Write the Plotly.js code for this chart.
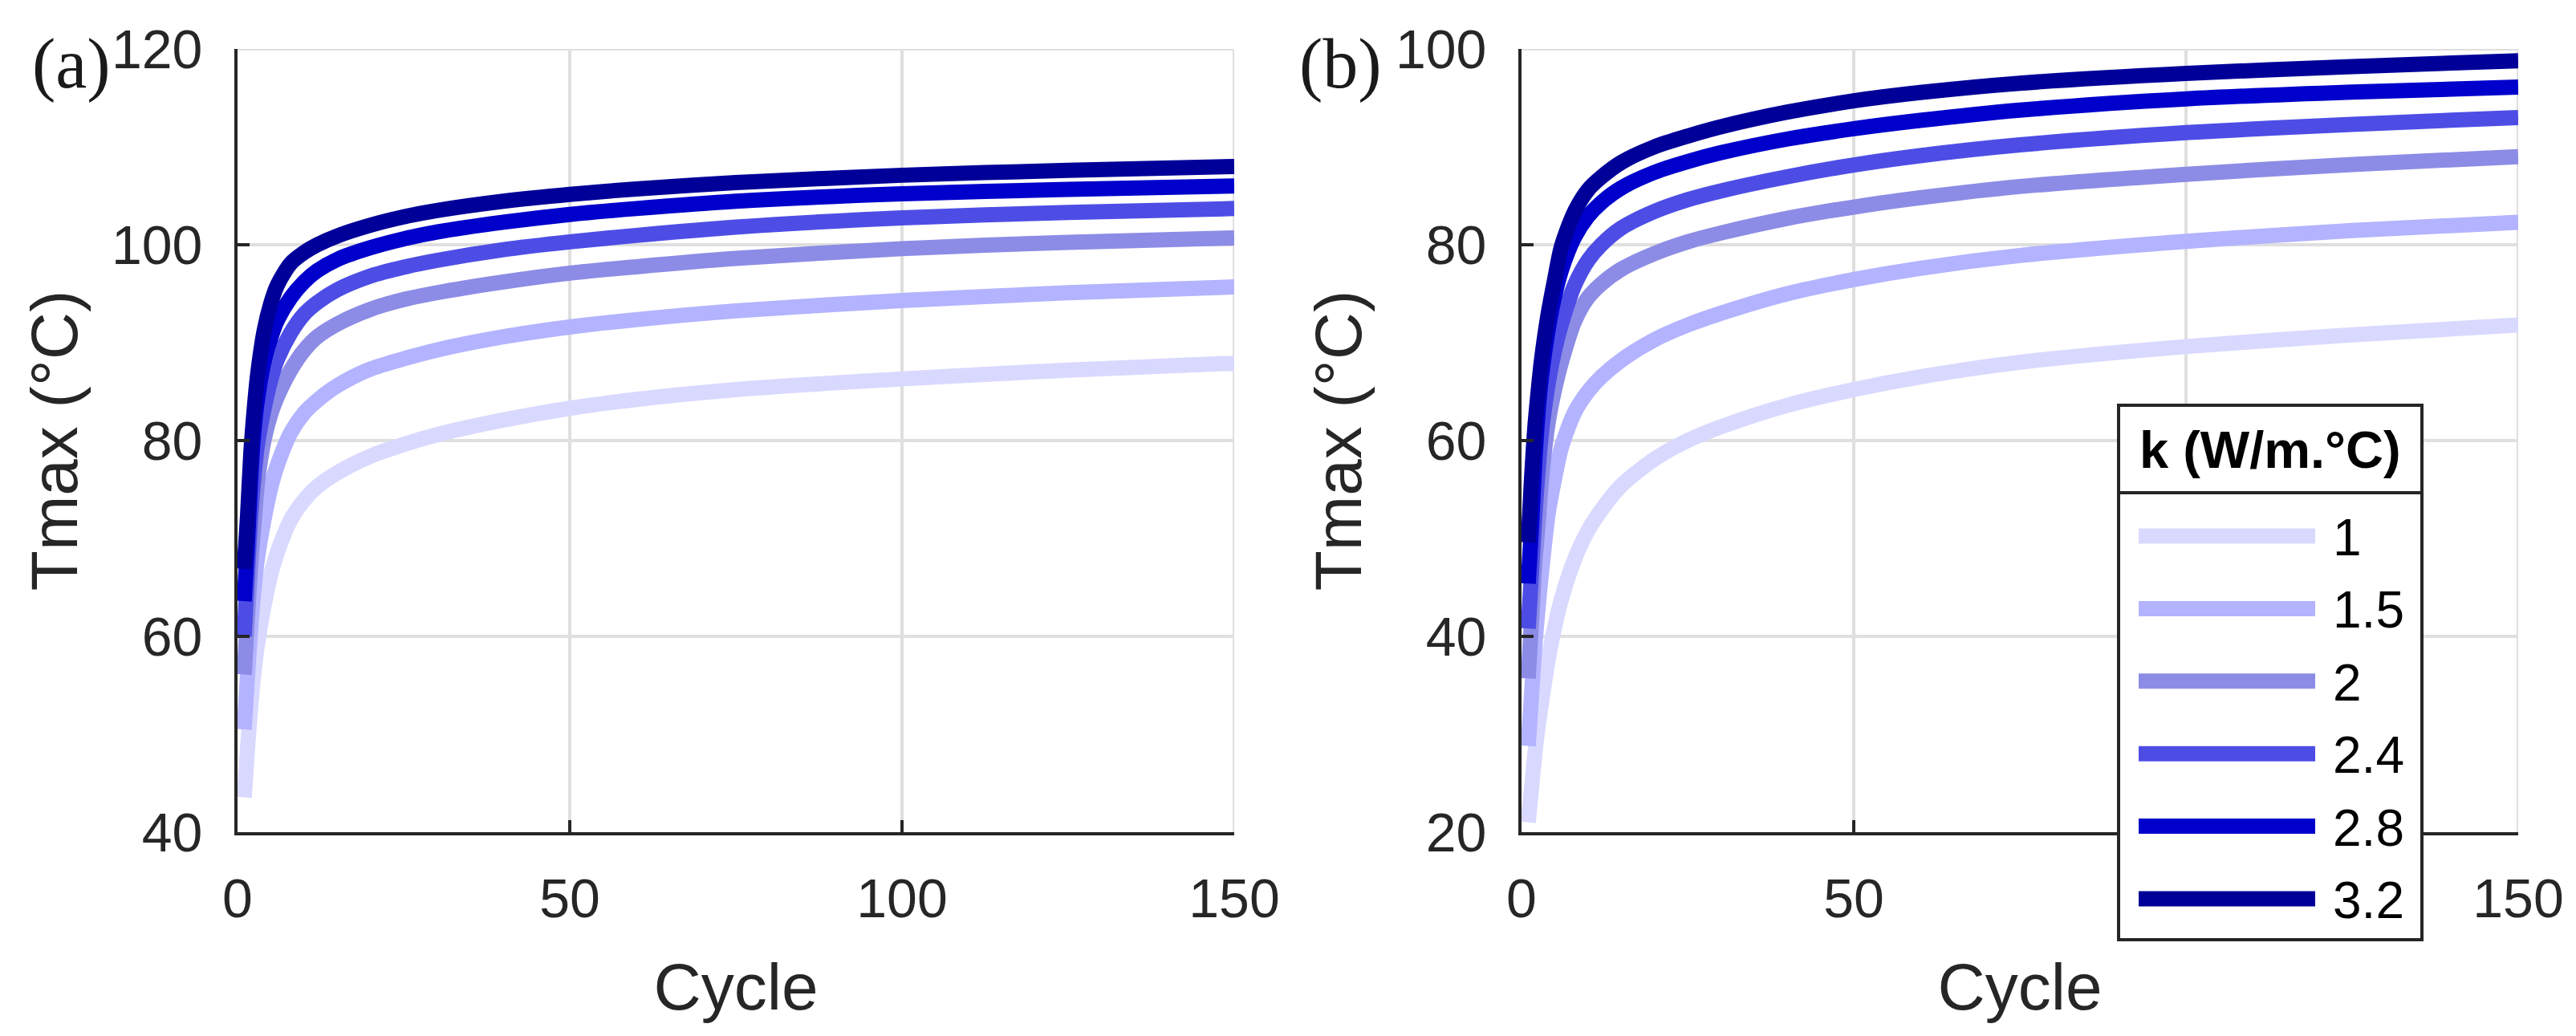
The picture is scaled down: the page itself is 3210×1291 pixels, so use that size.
<!DOCTYPE html>
<html>
<head>
<meta charset="utf-8">
<script src="https://cdn.plot.ly/plotly-3.0.1.min.js"></script>
<style>
  html, body { margin: 0; padding: 0; background: #fff; }
  #chart { width: 3210px; height: 1291px; }
</style>
</head>
<body>
<div id="chart"></div>
<script>
// data
const cycles = [1, 1.5, 2, 2.5, 3, 4, 5, 6, 8, 10, 12, 15, 20, 25, 30, 40, 50, 60, 75, 100, 125, 150];
const kValues = ['1', '1.5', '2', '2.4', '2.8', '3.2'];
const lineColors = ['#d9d9ff', '#b3b3ff', '#8c8ce6', '#4d4de6', '#0000cc', '#000099'];

// panel (a)
const tmaxA_k1  = [43.55, 48.5, 53.0, 56.5, 59.2, 63.2, 66.3, 68.6, 71.9, 73.9, 75.3, 76.7, 78.4, 79.6, 80.6, 82.1, 83.3, 84.2, 85.2, 86.3, 87.2, 87.9];
const tmaxA_k15 = [50.5, 56.0, 61.0, 65.0, 68.0, 72.0, 75.2, 77.5, 80.8, 82.8, 84.1, 85.6, 87.3, 88.35, 89.25, 90.6, 91.6, 92.35, 93.25, 94.3, 95.1, 95.7];
const tmaxA_k2  = [56.1, 62.0, 67.5, 71.8, 75.7, 80.1, 82.7, 84.5, 87.2, 89.2, 90.6, 91.9, 93.4, 94.4, 95.1, 96.2, 97.1, 97.75, 98.6, 99.6, 100.25, 100.7];
const tmaxA_k24 = [60.0, 66.5, 72.5, 76.5, 79.6, 83.3, 86.2, 88.3, 91.0, 92.9, 94.1, 95.4, 96.8, 97.7, 98.4, 99.5, 100.3, 100.95, 101.8, 102.75, 103.3, 103.7];
const tmaxA_k28 = [63.6, 69.5, 76.5, 81.2, 84.2, 88.1, 90.5, 92.3, 94.6, 96.2, 97.35, 98.5, 99.7, 100.6, 101.3, 102.3, 103.1, 103.7, 104.45, 105.2, 105.65, 106.0];
const tmaxA_k32 = [66.9, 72.2, 78.7, 83.1, 86.6, 91.2, 94.0, 95.9, 98.1, 99.2, 100.0, 100.9, 102.0, 102.85, 103.5, 104.45, 105.15, 105.7, 106.35, 107.1, 107.6, 108.0];

// panel (b)
const tmaxB_k1  = [21.0, 24.5, 28.0, 30.8, 33.2, 37.6, 41.0, 43.8, 47.9, 50.8, 52.9, 55.4, 58.1, 60.0, 61.4, 63.6, 65.2, 66.5, 68.0, 69.6, 70.8, 71.8];
const tmaxB_k15 = [28.8, 34.0, 39.0, 43.0, 46.5, 52.5, 56.2, 59.3, 62.9, 65.0, 66.5, 68.2, 70.3, 71.8, 73.0, 75.0, 76.45, 77.6, 78.9, 80.35, 81.45, 82.3];
const tmaxB_k2  = [35.7, 41.5, 47.5, 51.5, 56.0, 61.8, 65.3, 68.0, 72.2, 74.6, 76.0, 77.5, 79.1, 80.3, 81.2, 82.7, 83.85, 84.8, 85.95, 87.2, 88.2, 89.0];
const tmaxB_k24 = [40.8, 46.5, 52.3, 57.0, 60.8, 65.8, 69.3, 71.9, 75.9, 78.4, 80.0, 81.7, 83.4, 84.6, 85.5, 86.95, 88.15, 89.1, 90.2, 91.45, 92.3, 93.0];
const tmaxB_k28 = [45.4, 51.2, 57.9, 63.0, 66.5, 71.3, 74.8, 77.4, 80.8, 82.9, 84.3, 85.8, 87.4, 88.5, 89.4, 90.8, 91.85, 92.7, 93.75, 94.9, 95.6, 96.1];
const tmaxB_k32 = [49.6, 56.0, 61.3, 65.0, 68.2, 72.9, 76.5, 79.8, 83.4, 85.6, 86.9, 88.4, 90.0, 91.1, 92.05, 93.55, 94.7, 95.55, 96.5, 97.5, 98.2, 98.8];

const seriesA = [tmaxA_k1, tmaxA_k15, tmaxA_k2, tmaxA_k24, tmaxA_k28, tmaxA_k32];
const seriesB = [tmaxB_k1, tmaxB_k15, tmaxB_k2, tmaxB_k24, tmaxB_k28, tmaxB_k32];

const W = 3210, H = 1291;
const px = x => x / W;          // pixel -> paper x
const py = y => 1 - y / H;      // pixel -> paper y (from top)

const AXIS = '#262626';
const GRID = '#dfdfdf';
const SANS = 'Liberation Sans, Arial, sans-serif';
const LINE_W = 19;

const traces = [];
function addSeries(list, xa, ya) {
  list.forEach((vals, i) => {
    traces.push({
      x: cycles, y: vals, xaxis: xa, yaxis: ya,
      type: 'scatter', mode: 'lines',
      name: kValues[i],
      line: { color: lineColors[i], width: LINE_W, shape: 'spline', smoothing: 0.8 },
      showlegend: false, hoverinfo: 'skip'
    });
  });
}
addSeries(seriesA, 'x', 'y');
addSeries(seriesB, 'x2', 'y2');

function xAxis(domain, anchor) {
  return {
    domain: domain, anchor: anchor, range: [0, 150], dtick: 50,
    showgrid: true, gridcolor: GRID, gridwidth: 4,
    showline: true, linecolor: AXIS, linewidth: 4, zeroline: false,
    ticks: 'inside', ticklen: 15, tickwidth: 4, tickcolor: AXIS,
    ticklabelstandoff: 20,
    tickfont: { family: SANS, size: 68, color: AXIS },
    title: { text: 'Cycle', font: { family: SANS, size: 82, color: AXIS }, standoff: 46 },
    fixedrange: true
  };
}
function yAxis(domain, anchor, range) {
  return {
    domain: domain, anchor: anchor, range: range, dtick: 20,
    showgrid: true, gridcolor: GRID, gridwidth: 4,
    showline: true, linecolor: AXIS, linewidth: 4, zeroline: false,
    ticks: 'inside', ticklen: 15, tickwidth: 4, tickcolor: AXIS,
    ticklabelstandoff: 26,
    tickfont: { family: SANS, size: 68, color: AXIS },
    title: { text: 'Tmax (°C)', font: { family: SANS, size: 82, color: AXIS }, standoff: 16 },
    fixedrange: true
  };
}

const yDom = [py(1037), py(61)];

// legend drawn by hand (box + header + samples) so the long line samples match
const LEG = { left: 2640, right: 3018, top: 505, bottom: 1171, header: 614,
              sx0: 2665, sx1: 2885, tx: 2905, y0: 668, dy: 90.4 };

const shapes = [
  // grid lines on the far edges (range ends)
  { type: 'line', xref: 'x', yref: 'y domain', x0: 150, x1: 150, y0: 0, y1: 1, line: { color: GRID, width: 4 }, layer: 'below' },
  { type: 'line', xref: 'x domain', yref: 'y', x0: 0, x1: 1, y0: 120, y1: 120, line: { color: GRID, width: 4 }, layer: 'below' },
  { type: 'line', xref: 'x2', yref: 'y2 domain', x0: 150, x1: 150, y0: 0, y1: 1, line: { color: GRID, width: 4 }, layer: 'below' },
  { type: 'line', xref: 'x2 domain', yref: 'y2', x0: 0, x1: 1, y0: 100, y1: 100, line: { color: GRID, width: 4 }, layer: 'below' },
  // legend box
  { type: 'rect', xref: 'paper', yref: 'paper',
    x0: px(LEG.left), x1: px(LEG.right), y0: py(LEG.bottom), y1: py(LEG.top),
    fillcolor: '#ffffff', line: { color: AXIS, width: 4 }, layer: 'above' },
  { type: 'line', xref: 'paper', yref: 'paper',
    x0: px(LEG.left), x1: px(LEG.right), y0: py(LEG.header), y1: py(LEG.header),
    line: { color: AXIS, width: 4 }, layer: 'above' }
];

const annotations = [
  { text: '(a)', xref: 'paper', yref: 'paper', x: px(38), y: py(80), xanchor: 'left', yanchor: 'middle',
    showarrow: false, font: { family: 'Liberation Serif, Times New Roman, serif', size: 88, color: '#1a1a1a' } },
  { text: '(b)', xref: 'paper', yref: 'paper', x: px(1617), y: py(80), xanchor: 'left', yanchor: 'middle',
    showarrow: false, font: { family: 'Liberation Serif, Times New Roman, serif', size: 88, color: '#1a1a1a' } },
  { text: '<b>k (W/m.°C)</b>', xref: 'paper', yref: 'paper', x: px((LEG.left + LEG.right) / 2), y: py(560),
    xanchor: 'center', yanchor: 'middle', showarrow: false,
    font: { family: SANS, size: 65, color: '#000000' } }
];

kValues.forEach((k, i) => {
  const yc = LEG.y0 + i * LEG.dy;
  shapes.push({ type: 'line', xref: 'paper', yref: 'paper',
    x0: px(LEG.sx0), x1: px(LEG.sx1), y0: py(yc), y1: py(yc),
    line: { color: lineColors[i], width: LINE_W }, layer: 'above' });
  annotations.push({ text: k, xref: 'paper', yref: 'paper', x: px(LEG.tx), y: py(yc + 2),
    xanchor: 'left', yanchor: 'middle', showarrow: false,
    font: { family: SANS, size: 64, color: '#000000' } });
});

const layout = {
  width: W, height: H,
  margin: { l: 0, r: 0, t: 0, b: 0 },
  paper_bgcolor: '#ffffff', plot_bgcolor: '#ffffff',
  showlegend: false,
  xaxis: xAxis([px(296), px(1538)], 'y'),
  yaxis: yAxis(yDom, 'x', [40, 120]),
  xaxis2: xAxis([px(1896), px(3138)], 'y2'),
  yaxis2: yAxis(yDom, 'x2', [20, 100]),
  shapes: shapes,
  annotations: annotations
};

Plotly.newPlot('chart', traces, layout, { staticPlot: true, displayModeBar: false });
</script>
</body>
</html>
